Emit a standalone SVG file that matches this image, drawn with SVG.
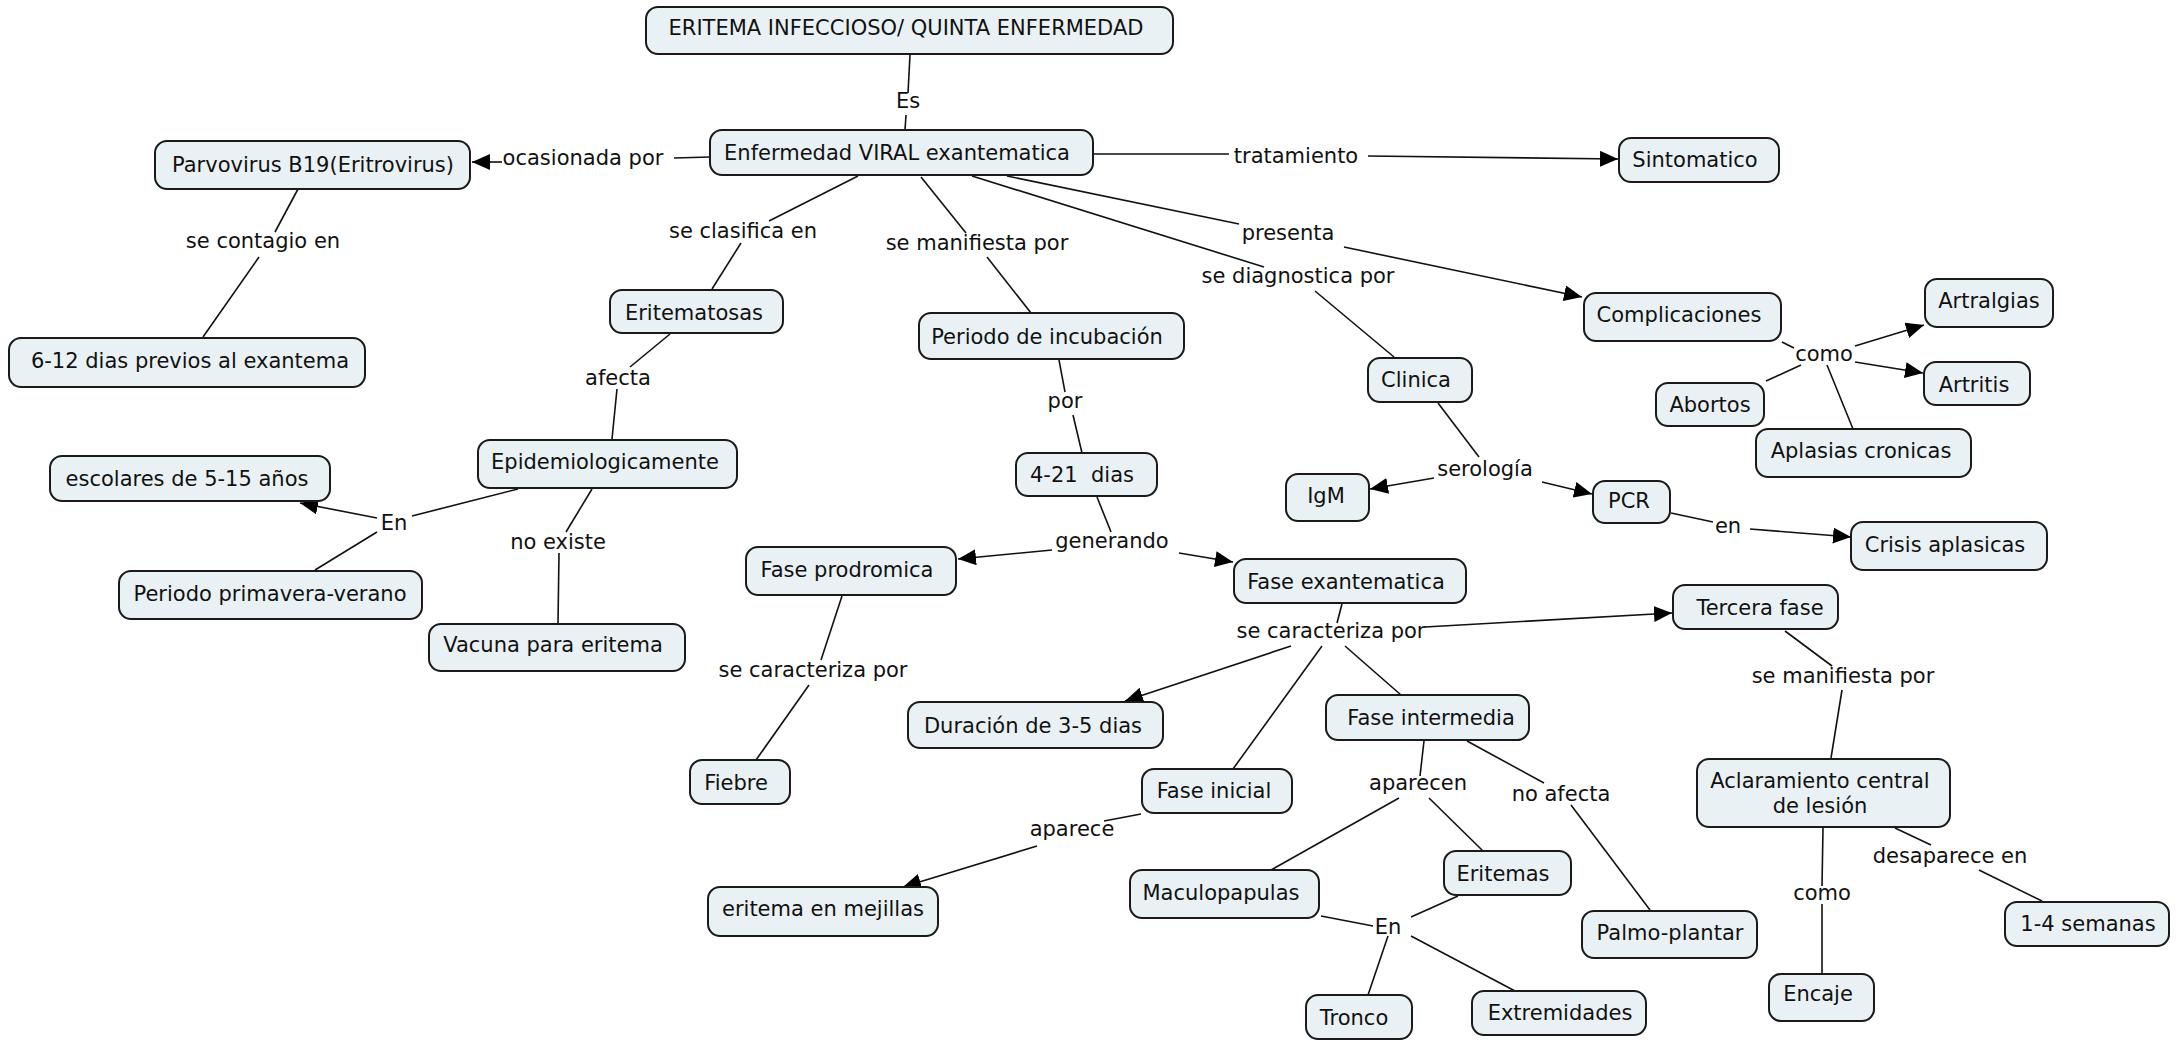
<svg xmlns="http://www.w3.org/2000/svg" width="2179" height="1048" viewBox="0 0 2179 1048">
  <defs>
    <marker id="arrow" markerUnits="userSpaceOnUse" markerWidth="18" markerHeight="16" refX="18" refY="8" orient="auto">
      <path d="M0,0 L18,8 L0,16 z" fill="#000"/>
    </marker>
    <style>
      .node rect { fill: #e9f1f4; stroke: #1a1a1a; stroke-width: 2; }
      text { font-family: "DejaVu Sans", Verdana, sans-serif; font-size: 21px; fill: #111; text-anchor: middle; white-space: pre; }
      .links line { stroke: #111; stroke-width: 1.6; fill: none; }
      .links line.arr { marker-end: url(#arrow); }
    </style>
  </defs>
  <rect width="2179" height="1048" fill="#fff"/>

  <!-- connectors -->
  <g class="links">
    <line x1="910" y1="55" x2="908" y2="93"/>
    <line x1="906" y1="115" x2="905" y2="130"/>
    <line x1="710" y1="157" x2="674" y2="158"/>
    <line class="arr" x1="502" y1="162" x2="472" y2="162"/>
    <line x1="298" y1="189" x2="275" y2="232"/>
    <line x1="259" y1="257" x2="203" y2="337"/>
    <line x1="858" y1="176" x2="769" y2="221"/>
    <line x1="741" y1="243" x2="712" y2="289"/>
    <line x1="670" y1="334" x2="630" y2="367"/>
    <line x1="617" y1="389" x2="612" y2="439"/>
    <line x1="518" y1="489" x2="412" y2="516"/>
    <line class="arr" x1="377" y1="518" x2="300" y2="503"/>
    <line x1="377" y1="532" x2="315" y2="570"/>
    <line x1="592" y1="489" x2="566" y2="532"/>
    <line x1="559" y1="553" x2="558" y2="623"/>
    <line x1="921" y1="177" x2="966" y2="233"/>
    <line x1="987" y1="257" x2="1031" y2="313"/>
    <line x1="1059" y1="360" x2="1065" y2="392"/>
    <line x1="1073" y1="415" x2="1082" y2="453"/>
    <line x1="1097" y1="497" x2="1111" y2="532"/>
    <line class="arr" x1="1052" y1="550" x2="958" y2="559"/>
    <line class="arr" x1="1179" y1="553" x2="1233" y2="562"/>
    <line x1="842" y1="596" x2="821" y2="660"/>
    <line x1="809" y1="685" x2="756" y2="760"/>
    <line x1="1342" y1="604" x2="1337" y2="623"/>
    <line class="arr" x1="1425" y1="627" x2="1672" y2="613"/>
    <line class="arr" x1="1291" y1="646" x2="1125" y2="701"/>
    <line x1="1322" y1="646" x2="1233" y2="769"/>
    <line x1="1345" y1="646" x2="1401" y2="695"/>
    <line x1="1141" y1="814" x2="1104" y2="821"/>
    <line class="arr" x1="1037" y1="846" x2="903" y2="887"/>
    <line x1="1424" y1="741" x2="1420" y2="776"/>
    <line x1="1399" y1="798" x2="1271" y2="870"/>
    <line x1="1429" y1="798" x2="1483" y2="851"/>
    <line x1="1467" y1="741" x2="1544" y2="783"/>
    <line x1="1571" y1="805" x2="1650" y2="910"/>
    <line x1="1321" y1="916" x2="1373" y2="926"/>
    <line x1="1458" y1="896" x2="1411" y2="917"/>
    <line x1="1388" y1="936" x2="1368" y2="995"/>
    <line x1="1411" y1="936" x2="1515" y2="991"/>
    <line x1="1093" y1="154" x2="1229" y2="154"/>
    <line class="arr" x1="1368" y1="156" x2="1618" y2="159"/>
    <line x1="1007" y1="176" x2="1239" y2="224"/>
    <line class="arr" x1="1344" y1="247" x2="1582" y2="297"/>
    <line x1="972" y1="176" x2="1264" y2="267"/>
    <line x1="1315" y1="291" x2="1394" y2="357"/>
    <line x1="1438" y1="403" x2="1479" y2="457"/>
    <line class="arr" x1="1434" y1="478" x2="1370" y2="489"/>
    <line class="arr" x1="1542" y1="482" x2="1592" y2="494"/>
    <line x1="1671" y1="513" x2="1713" y2="522"/>
    <line class="arr" x1="1750" y1="529" x2="1851" y2="537"/>
    <line x1="1782" y1="342" x2="1794" y2="348"/>
    <line x1="1801" y1="365" x2="1766" y2="381"/>
    <line x1="1827" y1="365" x2="1853" y2="429"/>
    <line class="arr" x1="1855" y1="362" x2="1923" y2="373"/>
    <line class="arr" x1="1855" y1="346" x2="1924" y2="325"/>
    <line x1="1785" y1="631" x2="1832" y2="666"/>
    <line x1="1842" y1="690" x2="1831" y2="758"/>
    <line x1="1823" y1="828" x2="1822" y2="886"/>
    <line x1="1822" y1="904" x2="1822" y2="974"/>
    <line x1="1895" y1="828" x2="1931" y2="845"/>
    <line x1="1979" y1="870" x2="2042" y2="901"/>
  </g>

  <!-- linking phrases -->
  <g class="labels">
    <text x="908" y="108">Es</text>
    <text x="583" y="165">ocasionada por</text>
    <text x="263" y="248">se contagio en</text>
    <text x="743" y="238">se clasifica en</text>
    <text x="618" y="385">afecta</text>
    <text x="394" y="530">En</text>
    <text x="558" y="549">no existe</text>
    <text x="977" y="250">se manifiesta por</text>
    <text x="1065" y="408">por</text>
    <text x="1112" y="548">generando</text>
    <text x="813" y="677">se caracteriza por</text>
    <text x="1331" y="638">se caracteriza por</text>
    <text x="1072" y="836">aparece</text>
    <text x="1418" y="790">aparecen</text>
    <text x="1561" y="801">no afecta</text>
    <text x="1388" y="934">En</text>
    <text x="1296" y="163">tratamiento</text>
    <text x="1288" y="240">presenta</text>
    <text x="1298" y="283">se diagnostica por</text>
    <text x="1485" y="476">serología</text>
    <text x="1728" y="533">en</text>
    <text x="1824" y="361">como</text>
    <text x="1843" y="683">se manifiesta por</text>
    <text x="1822" y="900">como</text>
    <text x="1950" y="863">desaparece en</text>
  </g>

  <!-- concepts -->
  <g id="n-title" class="node"><rect x="646" y="7" width="527" height="47" rx="12"/><text x="906" y="35">ERITEMA INFECCIOSO/ QUINTA ENFERMEDAD</text></g>
  <g id="n-enfermedad" class="node"><rect x="710" y="130" width="383" height="45" rx="12"/><text x="897" y="160">Enfermedad VIRAL exantematica</text></g>
  <g id="n-parvovirus" class="node"><rect x="155" y="141" width="315" height="48" rx="12"/><text x="313" y="172">Parvovirus B19(Eritrovirus)</text></g>
  <g id="n-contagio" class="node"><rect x="9" y="338" width="356" height="49" rx="12"/><text x="190" y="368">6-12 dias previos al exantema</text></g>
  <g id="n-eritematosas" class="node"><rect x="610" y="290" width="173" height="43" rx="12"/><text x="694" y="320">Eritematosas</text></g>
  <g id="n-epidemio" class="node"><rect x="478" y="440" width="259" height="48" rx="12"/><text x="605" y="469">Epidemiologicamente</text></g>
  <g id="n-escolares" class="node"><rect x="50" y="456" width="280" height="45" rx="12"/><text x="187" y="486">escolares de 5-15 años</text></g>
  <g id="n-primavera" class="node"><rect x="119" y="571" width="303" height="48" rx="12"/><text x="270" y="601">Periodo primavera-verano</text></g>
  <g id="n-vacuna" class="node"><rect x="429" y="624" width="256" height="47" rx="12"/><text x="553" y="652">Vacuna para eritema</text></g>
  <g id="n-incubacion" class="node"><rect x="919" y="313" width="265" height="46" rx="12"/><text x="1047" y="344">Periodo de incubación</text></g>
  <g id="n-dias" class="node"><rect x="1016" y="453" width="141" height="43" rx="12"/><text x="1082" y="482">4-21  dias</text></g>
  <g id="n-prodromica" class="node"><rect x="746" y="547" width="210" height="48" rx="12"/><text x="847" y="577">Fase prodromica</text></g>
  <g id="n-fiebre" class="node"><rect x="690" y="760" width="100" height="44" rx="12"/><text x="736" y="790">Fiebre</text></g>
  <g id="n-exantematica" class="node"><rect x="1234" y="559" width="232" height="44" rx="12"/><text x="1346" y="589">Fase exantematica</text></g>
  <g id="n-duracion" class="node"><rect x="908" y="702" width="255" height="46" rx="12"/><text x="1033" y="733">Duración de 3-5 dias</text></g>
  <g id="n-inicial" class="node"><rect x="1142" y="769" width="150" height="44" rx="12"/><text x="1214" y="798">Fase inicial</text></g>
  <g id="n-mejillas" class="node"><rect x="708" y="887" width="230" height="49" rx="12"/><text x="823" y="916">eritema en mejillas</text></g>
  <g id="n-intermedia" class="node"><rect x="1326" y="695" width="203" height="45" rx="12"/><text x="1431" y="725">Fase intermedia</text></g>
  <g id="n-maculopapulas" class="node"><rect x="1130" y="870" width="189" height="48" rx="12"/><text x="1221" y="900">Maculopapulas</text></g>
  <g id="n-eritemas" class="node"><rect x="1444" y="851" width="127" height="44" rx="12"/><text x="1503" y="881">Eritemas</text></g>
  <g id="n-tronco" class="node"><rect x="1306" y="995" width="106" height="44" rx="12"/><text x="1354" y="1025">Tronco</text></g>
  <g id="n-extremidades" class="node"><rect x="1472" y="991" width="174" height="44" rx="12"/><text x="1560" y="1020">Extremidades</text></g>
  <g id="n-palmo" class="node"><rect x="1582" y="911" width="175" height="47" rx="12"/><text x="1670" y="940">Palmo-plantar</text></g>
  <g id="n-sintomatico" class="node"><rect x="1619" y="138" width="160" height="44" rx="12"/><text x="1695" y="167">Sintomatico</text></g>
  <g id="n-complicaciones" class="node"><rect x="1584" y="293" width="197" height="48" rx="12"/><text x="1679" y="322">Complicaciones</text></g>
  <g id="n-artralgias" class="node"><rect x="1925" y="279" width="128" height="48" rx="12"/><text x="1989" y="308">Artralgias</text></g>
  <g id="n-artritis" class="node"><rect x="1924" y="362" width="106" height="43" rx="12"/><text x="1974" y="392">Artritis</text></g>
  <g id="n-abortos" class="node"><rect x="1656" y="383" width="108" height="43" rx="12"/><text x="1710" y="412">Abortos</text></g>
  <g id="n-aplasias" class="node"><rect x="1756" y="429" width="215" height="48" rx="12"/><text x="1861" y="458">Aplasias cronicas</text></g>
  <g id="n-clinica" class="node"><rect x="1368" y="358" width="104" height="44" rx="12"/><text x="1416" y="387">Clinica</text></g>
  <g id="n-igm" class="node"><rect x="1286" y="474" width="83" height="47" rx="12"/><text x="1326" y="503">IgM</text></g>
  <g id="n-pcr" class="node"><rect x="1593" y="481" width="77" height="42" rx="12"/><text x="1629" y="508">PCR</text></g>
  <g id="n-crisis" class="node"><rect x="1851" y="522" width="196" height="48" rx="12"/><text x="1945" y="552">Crisis aplasicas</text></g>
  <g id="n-tercera" class="node"><rect x="1673" y="585" width="165" height="44" rx="12"/><text x="1760" y="615">Tercera fase</text></g>
  <g id="n-aclaramiento" class="node"><rect x="1697" y="759" width="253" height="68" rx="12"/><text x="1820" y="788">Aclaramiento central</text><text x="1820" y="813">de lesión</text></g>
  <g id="n-encaje" class="node"><rect x="1769" y="974" width="105" height="47" rx="12"/><text x="1818" y="1001">Encaje</text></g>
  <g id="n-semanas" class="node"><rect x="2005" y="902" width="164" height="44" rx="12"/><text x="2088" y="931">1-4 semanas</text></g>
</svg>
